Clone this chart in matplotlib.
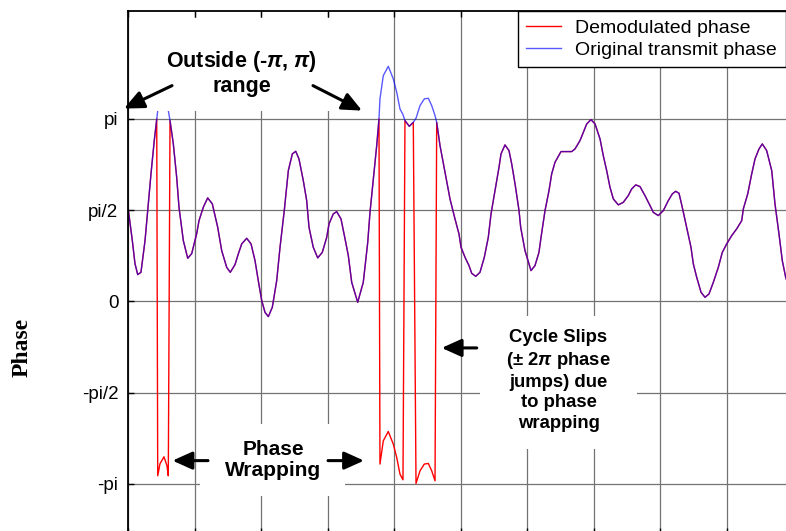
import numpy as np
import matplotlib.pyplot as plt
from matplotlib.patches import Rectangle

plt.rcParams['font.family'] = 'Liberation Sans'
plt.rcParams['mathtext.fontset'] = 'custom'
plt.rcParams['mathtext.rm'] = 'Liberation Sans:bold'
plt.rcParams['mathtext.bf'] = 'Liberation Sans:bold'
plt.rcParams['mathtext.it'] = 'Liberation Sans:italic:bold'

# transmitted phase (rad) vs time
t = np.array([
    0.000, 0.065, 0.105, 0.146, 0.195, 0.256, 0.296, 0.346, 0.395, 0.432,
    0.447, 0.481, 0.541, 0.586, 0.606, 0.632, 0.681, 0.732, 0.767, 0.832,
    0.898, 0.958, 1.033, 1.068, 1.132, 1.198, 1.268, 1.349, 1.409, 1.484,
    1.538, 1.609, 1.659, 1.710, 1.785, 1.850, 1.910, 1.959, 2.011, 2.060,
    2.110, 2.170, 2.236, 2.286, 2.350, 2.411, 2.471, 2.522, 2.571, 2.636,
    2.687, 2.722, 2.786, 2.853, 2.922, 2.988, 3.023, 3.087, 3.138, 3.203,
    3.263, 3.313, 3.364, 3.454, 3.538, 3.605, 3.639, 3.689, 3.740, 3.774,
    3.789, 3.839, 3.914, 3.989, 4.041, 4.090, 4.135, 4.165, 4.230, 4.290,
    4.331, 4.391, 4.456, 4.516, 4.567, 4.617, 4.642, 4.692, 4.767, 4.842,
    4.917, 4.977, 5.008, 5.068, 5.128, 5.168, 5.229, 5.293, 5.358, 5.418,
    5.459, 5.519, 5.579, 5.609, 5.669, 5.729, 5.770, 5.820, 5.880, 5.905,
    5.970, 6.060, 6.120, 6.180, 6.211, 6.271, 6.331, 6.371, 6.421, 6.511,
    6.672, 6.722, 6.797, 6.847, 6.898, 6.962, 7.023, 7.098, 7.147, 7.198,
    7.248, 7.298, 7.373, 7.448, 7.523, 7.574, 7.635, 7.699, 7.774, 7.850,
    7.899, 7.974, 8.050, 8.125, 8.185, 8.236, 8.286, 8.335, 8.401, 8.466,
    8.501, 8.552, 8.617, 8.677, 8.737, 8.802, 8.877, 8.937, 9.003, 9.078,
    9.153, 9.229, 9.253, 9.319, 9.379, 9.429, 9.489, 9.538, 9.604, 9.680,
    9.729, 9.789, 9.839, 9.890, 9.985, 10.000])

phase_tx = np.array([
    1.617, 1.044, 0.649, 0.459, 0.499, 1.044, 1.561, 2.197, 2.765, 3.138,
    3.281, 3.488, 3.608, 3.453, 3.281, 3.109, 2.713, 2.134, 1.617, 1.044,
    0.740, 0.821, 1.165, 1.389, 1.617, 1.779, 1.676, 1.273, 0.872, 0.585,
    0.499, 0.631, 0.816, 0.988, 1.084, 0.988, 0.700, 0.356, 0.012, -0.189,
    -0.263, -0.103, 0.356, 0.929, 1.561, 2.249, 2.536, 2.581, 2.450, 2.077,
    1.733, 1.273, 0.929, 0.747, 0.843, 1.101, 1.332, 1.504, 1.543, 1.418,
    1.079, 0.786, 0.327, -0.017, 0.327, 1.015, 1.531, 2.106, 2.679, 3.138,
    3.483, 3.883, 4.043, 3.827, 3.596, 3.310, 3.212, 3.109, 3.011, 3.080,
    3.149, 3.367, 3.483, 3.493, 3.367, 3.195, 3.080, 2.679, 2.220, 1.762,
    1.418, 1.160, 0.929, 0.757, 0.614, 0.482, 0.430, 0.499, 0.757, 1.101,
    1.504, 1.905, 2.306, 2.536, 2.691, 2.593, 2.364, 2.020, 1.561, 1.273,
    0.872, 0.528, 0.614, 0.843, 1.101, 1.561, 1.905, 2.192, 2.392, 2.576,
    2.576, 2.622, 2.765, 2.908, 3.052, 3.126, 3.052, 2.794, 2.507, 2.249,
    1.962, 1.762, 1.659, 1.703, 1.819, 1.934, 2.003, 1.974, 1.819, 1.647,
    1.531, 1.475, 1.561, 1.733, 1.848, 1.893, 1.858, 1.617, 1.273, 0.929,
    0.644, 0.413, 0.155, 0.069, 0.127, 0.327, 0.585, 0.843, 0.988, 1.130,
    1.246, 1.389, 1.590, 1.848, 2.192, 2.450, 2.622, 2.708, 2.593, 2.249,
    1.676, 1.160, 0.700, 0.413, 0.098, 0.050])

# receiver only sees the phase modulo 2*pi
phase_demod = np.angle(np.exp(1j * phase_tx))

yticks = [-np.pi, -np.pi / 2, 0, np.pi / 2, np.pi]
yticklabels = ['-pi', '-pi/2', '0', 'pi/2', 'pi']

fig = plt.figure(figsize=(7.86, 5.31), dpi=100)
ax = fig.add_axes([0.16285, -0.00527, 0.84606, 0.98512])

ax.plot(t, phase_demod, color='red', lw=1.0, label='Demodulated phase', zorder=2)
ax.plot(t, phase_tx, color='blue', lw=1.0, alpha=0.65, label='Original transmit phase', zorder=2.1)

ax.set_xlim(0, 10)
ax.set_ylim(-4, 5)
ax.set_xticks(np.arange(0, 11))
ax.set_xticklabels([])
ax.set_yticks(yticks)
ax.set_yticklabels(yticklabels, fontsize=13.5)
ax.tick_params(direction='in', length=4, width=1, top=True, pad=7)
ax.grid(True, color='0.45', lw=0.9)
ax.set_axisbelow(True)
for s in ax.spines.values():
    s.set_linewidth(1.3)

# white patches under the notes
for (x0, y0, w, h) in [(0.331, 3.281, 2.782, 1.600),
                       (1.083, -3.343, 2.180, 1.239),
                       (5.293, -2.534, 2.361, 2.288)]:
    ax.add_patch(Rectangle((x0, y0), w, h, fc='white', ec='none', zorder=3))

ax.text(1.707, 3.926, 'Outside (-$\\pi$, $\\pi$)\nrange', ha='center', va='center',
        fontsize=15.5, fontweight='bold', linespacing=1.15, zorder=4)
ax.text(2.180, -2.724, 'Phase\nWrapping', ha='center', va='center',
        fontsize=15, fontweight='bold', linespacing=1.15, zorder=4)
ax.text(6.474, -1.359, 'Cycle Slips\n(± 2$\\pi$ phase\njumps) due\nto phase\nwrapping',
        ha='center', va='center', fontsize=13.3, fontweight='bold',
        linespacing=1.25, zorder=4)

arrows = [((0.662, 3.711), (-0.060, 3.316)),
          ((2.782, 3.711), (3.519, 3.281)),
          ((1.203, -2.741), (0.669, -2.741)),
          ((3.008, -2.741), (3.549, -2.741)),
          ((5.244, -0.802), (4.717, -0.802))]
for tail, tip in arrows:
    ax.annotate('', xy=tip, xytext=tail, annotation_clip=False, zorder=5,
                arrowprops=dict(arrowstyle='-|>,head_length=0.6,head_width=0.27',
                                mutation_scale=20, lw=2.2, color='black',
                                shrinkA=0, shrinkB=0))

leg = ax.legend(loc='upper right', bbox_to_anchor=(785.5 / 786, 1 - 10.7 / 531),
                bbox_transform=fig.transFigure, borderaxespad=0, fontsize=14,
                fancybox=False, framealpha=1, edgecolor='black',
                handlelength=1.8, handletextpad=0.7, borderpad=0.45,
                labelspacing=0.2)
leg.get_frame().set_linewidth(1.0)
leg.set_zorder(6)

fig.text(22 / 786, 1 - 347.5 / 531, 'Phase', rotation=90, ha='center', va='center',
         family='Liberation Serif', fontweight='bold', fontsize=17)

fig.savefig('out.png', dpi=100)
